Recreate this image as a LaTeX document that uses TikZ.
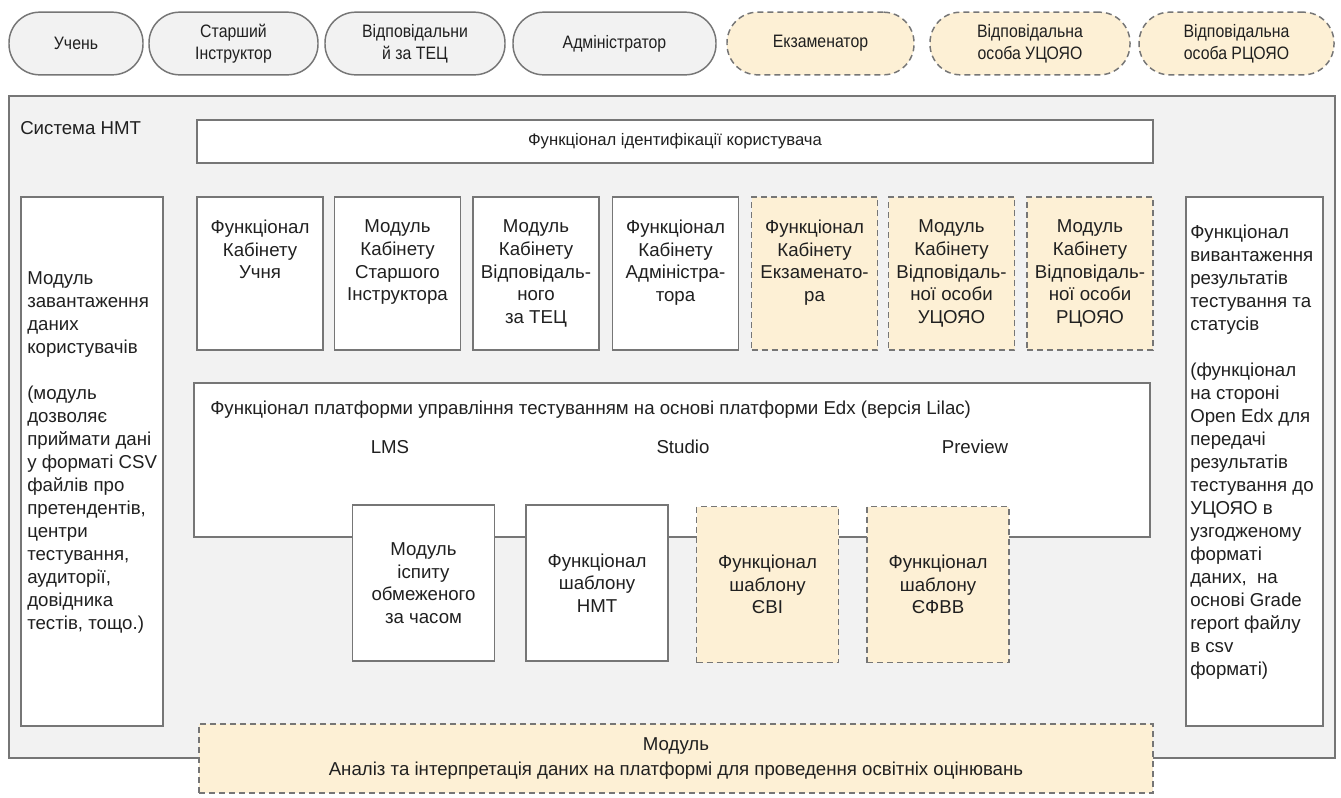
\documentclass[tikz,border=0pt]{standalone}
\usepackage{fontspec}
\setmainfont{Liberation Sans}
\newfontfamily\pillfont[FakeStretch=0.88]{Liberation Sans}
\definecolor{panel}{HTML}{F2F2F2}
\definecolor{edge}{HTML}{767676}
\definecolor{cream}{HTML}{FDF0D5}
\definecolor{ink}{HTML}{202020}
\begin{document}
\begin{tikzpicture}[x=0.75pt,y=-0.75pt,
  txt/.style={text=ink, inner sep=0pt, align=center, font=\fontsize{14}{17}\selectfont},
  ltxt/.style={text=ink, inner sep=0pt, align=left, font=\fontsize{14}{17.25}\selectfont},
  pillbox/.style={draw=edge, line width=1.1pt, fill=panel, rounded corners=23pt, inner sep=0pt,
     minimum height=47pt, align=center, text=ink, font=\pillfont\fontsize{13.5}{16.5}\selectfont},
  rolepill/.style={pillbox, dash pattern=on 4.5pt off 3pt, fill=cream},
  plainbox/.style={draw=edge, line width=1.1pt, fill=white, inner sep=0pt},
  newbox/.style={draw=edge, line width=1.1pt, fill=cream, inner sep=0pt, dash pattern=on 4.5pt off 3pt},
  cabsize/.style={minimum width=94.5pt, minimum height=114.75pt},
  tmplsize/.style={minimum width=106.5pt, minimum height=117pt},
]
\fill[white] (0,0) rectangle (1341,797);
\useasboundingbox (0,0) rectangle (1341,797);

% top role pills
\node[pillbox, minimum width=100.5pt]  (p1) at (76,43.5)    {Учень};
\node[pillbox, minimum width=126.75pt] (p2) at (233.5,43.5) {Старший\\Інструктор};
\node[pillbox, minimum width=135pt]    (p3) at (415,43.5)   {Відповідальни\\й за ТЕЦ};
\node[pillbox, minimum width=152.25pt] (p4) at (614.5,43.5) {Адміністратор};
\node[rolepill, minimum width=140.25pt] (p5) at (820.5,43.5) {Екзаменатор};
\node[rolepill, minimum width=150pt]    (p6) at (1030,43.5)  {Відповідальна\\особа УЦОЯО};
\node[rolepill, minimum width=146.25pt] (p7) at (1236.5,43.5) {Відповідальна\\особа РЦОЯО};

% system panel
\node[draw=edge, line width=1.1pt, fill=panel, inner sep=0pt,
      minimum width=994.5pt, minimum height=496.5pt] (sys) at (672,427) {};
\node[txt, anchor=west] (syslabel) at (20,128) {Система НМТ};

% identification
\node[plainbox, minimum width=717pt, minimum height=32.25pt, text=ink,
      font=\fontsize{12.5}{14}\selectfont] (ident) at (675,141.5) {Функціонал ідентифікації користувача};

% left module
\node[plainbox, minimum width=106.5pt, minimum height=396.75pt] (load) at (92,461.5) {};
\node[ltxt, anchor=west] (loadtxt) at (27,452) {Модуль\\завантаження\\даних\\користувачів\\[17.25pt](модуль\\дозволяє\\приймати дані\\у форматі CSV\\файлів про\\претендентів,\\центри\\тестування,\\аудиторії,\\довідника\\тестів, тощо.)};

% right module
\node[plainbox, minimum width=102.75pt, minimum height=396.75pt] (export) at (1254.5,461.5) {};
\node[ltxt, anchor=west] (exporttxt) at (1190,452) {Функціонал\\вивантаження\\результатів\\тестування та\\статусів\\[17.25pt](функціонал\\на стороні\\Open Edx для\\передачі\\результатів\\тестування до\\УЦОЯО в\\узгодженому\\форматі\\даних,~ на\\основі Grade\\report файлу\\в csv\\форматі)};

% cabinets
\node[plainbox, cabsize] (c1) at (260,273.5) {};
\node[plainbox, cabsize] (c2) at (397.5,273.5) {};
\node[plainbox, cabsize] (c3) at (536,273.5) {};
\node[plainbox, cabsize] (c4) at (675.5,273.5) {};
\node[newbox, cabsize]   (c5) at (814.5,273.5) {};
\node[newbox, cabsize]   (c6) at (951.5,273.5) {};
\node[newbox, cabsize]   (c7) at (1090,273.5) {};
\node[txt, anchor=north] (c1t) at ([yshift=-17.5pt]c1.north) {Функціонал\\Кабінету\\Учня};
\node[txt, anchor=north] (c2t) at ([yshift=-17.5pt]c2.north) {Модуль\\Кабінету\\Старшого\\Інструктора};
\node[txt, anchor=north] (c3t) at ([yshift=-17.5pt]c3.north) {Модуль\\Кабінету\\Відповідаль-\\ного\\за ТЕЦ};
\node[txt, anchor=north] (c4t) at ([yshift=-17.5pt]c4.north) {Функціонал\\Кабінету\\Адміністра-\\тора};
\node[txt, anchor=north] (c5t) at ([yshift=-17.5pt]c5.north) {Функціонал\\Кабінету\\Екзаменато-\\ра};
\node[txt, anchor=north] (c6t) at ([yshift=-17.5pt]c6.north) {Модуль\\Кабінету\\Відповідаль-\\ної особи\\УЦОЯО};
\node[txt, anchor=north] (c7t) at ([yshift=-17.5pt]c7.north) {Модуль\\Кабінету\\Відповідаль-\\ної особи\\РЦОЯО};

% platform
\node[plainbox, minimum width=717pt, minimum height=115.5pt] (edx) at (672,460) {};
\node[txt, anchor=west] (edxtitle) at (210,410) {Функціонал платформи управління тестуванням на основі платформи Edx (версія Lilac)};
\node[txt] (lms) at (390,447) {LMS};
\node[txt] (studio) at (683,447) {Studio};
\node[txt] (preview) at (975,447) {Preview};

% templates
\node[plainbox, tmplsize, txt] (t1) at (423.5,583) {Модуль\\іспиту\\обмеженого\\за часом};
\node[plainbox, tmplsize, txt] (t2) at (597,583) {Функціонал\\шаблону\\НМТ};
\node[newbox, tmplsize, txt] (t3) at (767.5,584.5) {Функціонал\\шаблону\\ЄВІ};
\node[newbox, tmplsize, txt] (t4) at (938,584.5) {Функціонал\\шаблону\\ЄФВВ};

% analysis module
\node[newbox, minimum width=715.5pt, minimum height=51.75pt, txt,
      font=\fontsize{14}{18}\selectfont] (anal) at (676,758.5) {Модуль\\Аналіз та інтерпретація даних на платформі для проведення освітніх оцінювань};
\end{tikzpicture}
\end{document}
